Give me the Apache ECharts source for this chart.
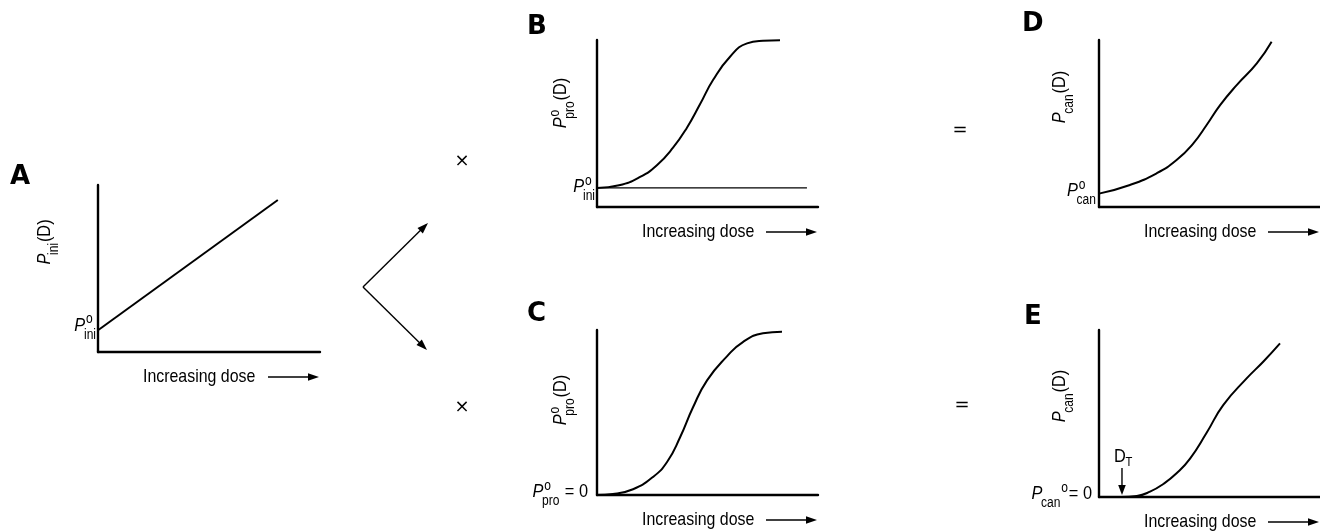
<!DOCTYPE html>
<html lang="en">
<head>
  <meta charset="utf-8">
  <style>
    body { margin: 0; background: #fff; }
  </style>
</head>
<body>
  <div id="container" style="width: 1320px; height: 531px"></div>
  <script src="https://cdn.jsdelivr.net/npm/echarts@6/dist/echarts.min.js"></script>
  <script>
// ---- data (dose / probability, arbitrary units 0..10) ----
const doseA = [0, 8.1];
const pIniA = [1.3, 9.1];

const doseB = [0, 1.0, 1.95, 2.71, 3.44, 4.07, 4.66, 5.25, 6.02, 6.79, 7.51, 8.28];
const pProB = [1.14, 1.3, 1.8, 2.5, 3.55, 4.75, 6.15, 7.6, 9.0, 9.8, 9.95, 9.98];
const baseDoseB = [0, 9.5];
const baseLevelB = [1.14, 1.14];

const doseC = [0, 0.72, 1.63, 2.53, 3.17, 3.76, 4.34, 4.98, 5.88, 6.6, 7.51, 8.37];
const pProC = [0, 0.06, 0.35, 1.09, 2.0, 3.5, 5.3, 6.95, 8.4, 9.27, 9.8, 9.9];

const doseD = [0, 1.4, 2.61, 3.51, 4.27, 4.87, 5.48, 6.23, 7.14, 7.81];
const pCanD = [0.8, 1.32, 2.02, 2.81, 3.81, 4.91, 6.1, 7.3, 8.6, 9.9];

const doseE = [0, 1.0, 1.71, 2.31, 2.91, 3.51, 4.12, 4.87, 5.62, 6.68, 7.43, 8.19];
const pCanE = [0, 0, 0.06, 0.32, 0.78, 1.42, 2.3, 3.85, 5.5, 7.1, 8.1, 9.2];

const thresholdDose = 1.04;
const panelNames = ['A', 'B', 'C', 'D', 'E'];

const pairs = (xs, ys) => xs.map((x, i) => [x, ys[i]]);

const dom = document.getElementById('container');
const myChart = echarts.init(dom, null, { renderer: 'canvas' });

const grids = [
  { left: 98, top: 185, width: 222, height: 167 },
  { left: 597, top: 40, width: 221, height: 167 },
  { left: 597, top: 330, width: 221, height: 165 },
  { left: 1099, top: 40, width: 221, height: 167 },
  { left: 1099, top: 330, width: 221, height: 167 }
];

const axisLine = { show: true, onZero: false, lineStyle: { color: '#000', width: 2.4 } };
function axis(i) {
  return {
    type: 'value', gridIndex: i, min: 0, max: 10,
    axisLine: axisLine, axisTick: { show: false }, axisLabel: { show: false },
    splitLine: { show: false }
  };
}
function curve(i, data, smooth, width) {
  return {
    type: 'line', xAxisIndex: i, yAxisIndex: i, data: data,
    smooth: smooth, showSymbol: false, silent: true,
    lineStyle: { color: '#000', width: width || 2 }
  };
}

const option = {
  backgroundColor: '#fff',
  animation: false,
  grid: grids,
  xAxis: grids.map((g, i) => axis(i)),
  yAxis: grids.map((g, i) => axis(i)),
  series: [
    curve(0, pairs(doseA, pIniA), false),
    curve(1, pairs(doseB, pProB), 0.5),
    curve(1, pairs(baseDoseB, baseLevelB), false, 1.3),
    curve(2, pairs(doseC, pProC), 0.5),
    curve(3, pairs(doseD, pCanD), 0.5),
    curve(4, pairs(doseE, pCanE), 0.5)
  ]
};
myChart.setOption(option);

// ---- text helpers ----
const SANS = '"Liberation Sans", Arial, sans-serif';
const SX = 0.86; // condense to mimic the narrow typeface
const ctx = document.createElement('canvas').getContext('2d');
function font(size, italic) { return (italic ? 'italic ' : '') + size + 'px ' + SANS; }
function tw(s, size, italic) { ctx.font = font(size, italic); return ctx.measureText(s).width; }
function txt(s, x, y, size, italic, align, fam, sx) {
  return {
    type: 'text', x: x, y: y, silent: true, scaleX: sx || 1,
    style: { text: s, font: fam || font(size, italic), fill: '#000',
      textAlign: align || 'left', textVerticalAlign: 'middle',
      align: align || 'left', verticalAlign: 'middle' }
  };
}
// P with sub/superscript and trailing text, origin at P's middle-left
function pSym(sub, sup, tail, supAfter) {
  const S = 19, s = 14;
  const wP = tw('P', S, true);
  const kids = [txt('P', 0, 0, S, true)];
  const x = wP - 1.5;
  kids.push(txt(sub, x, S * 0.5, s));
  let end = x + tw(sub, s);
  if (sup) {
    if (supAfter) {
      kids.push(txt(sup, end + 1, -S * 0.3, s));
      end += 1 + tw(sup, s);
    } else {
      kids.push(txt(sup, wP + 1, -S * 0.3, s));
      end = Math.max(end, wP + 1 + tw(sup, s));
    }
  }
  if (tail) {
    kids.push(txt(tail, end + 1, 0, S));
    end += 1 + tw(tail, S);
  }
  return { kids: kids, width: end };
}
function arrow(x1, y1, x2, y2, head, lw) {
  const a = Math.atan2(y2 - y1, x2 - x1), h = head || 10, w = 3.8;
  const bx = x2 - h * Math.cos(a), by = y2 - h * Math.sin(a);
  return [
    { type: 'line', silent: true, shape: { x1: x1, y1: y1, x2: x2 - 3 * Math.cos(a), y2: y2 - 3 * Math.sin(a) },
      style: { stroke: '#000', lineWidth: lw || 1.4 } },
    { type: 'polygon', silent: true,
      shape: { points: [[x2, y2], [bx - w * Math.sin(a), by + w * Math.cos(a)], [bx + w * Math.sin(a), by - w * Math.cos(a)]] },
      style: { fill: '#000' } }
  ];
}
const px = (i, x, y) => myChart.convertToPixel({ gridIndex: i }, [x, y]);

const g = [];
// x-axis captions
grids.forEach((gr, i) => {
  const o = px(i, 0, 0), e = px(i, 10, 0);
  const y = o[1] + 25;
  g.push(txt('Increasing dose', o[0] + 45, y, 18.5, false, 'left', null, SX));
  g.push(...arrow(e[0] - 52, y, e[0] - 1, y, 11, 1.4));
});
// y-axis names (rotated)
const yNames = [
  { sub: 'ini', sup: null, x: 45, y: 242 },
  { sub: 'pro', sup: 'o', x: 561, y: 103 },
  { sub: 'pro', sup: 'o', x: 561, y: 400 },
  { sub: 'can', sup: null, x: 1060, y: 97 },
  { sub: 'can', sup: null, x: 1060, y: 396 }
];
yNames.forEach(n => {
  const p = pSym(n.sub, n.sup, '(D)');
  p.kids.forEach(k => { k.x -= p.width / 2; });
  g.push({ type: 'group', x: n.x, y: n.y, rotation: Math.PI / 2, scaleX: SX, children: p.kids });
});
// intercept labels on the y axes
const ticks = [
  { i: 0, v: pIniA[0], sub: 'ini', sup: 'o', tail: null, dy: -5, gap: 2 },
  { i: 1, v: baseLevelB[0], sub: 'ini', sup: 'o', tail: null, dy: -1, gap: 2 },
  { i: 2, v: pProC[0], sub: 'pro', sup: 'o', tail: ' = 0', dy: -3, gap: 9 },
  { i: 3, v: pCanD[0], sub: 'can', sup: 'o', tail: null, dy: -3, gap: 3 },
  { i: 4, v: pCanE[0], sub: 'can', sup: 'o', tail: '= 0', dy: -3, gap: 7, after: true }
];
ticks.forEach(t => {
  const p = pSym(t.sub, t.sup, t.tail, t.after);
  const q = px(t.i, 0, t.v);
  g.push({ type: 'group', x: q[0] - t.gap - p.width * SX, y: q[1] + t.dy, scaleX: SX, children: p.kids });
});
// threshold dose marker in E
const dt = px(4, thresholdDose, 0);
g.push(txt('D', dt[0] - 8, dt[1] - 40, 19, false, 'left', null, SX));
g.push(txt('T', dt[0] + 3.5, dt[1] - 35, 13, false, 'left', null, SX));
g.push(...arrow(dt[0], dt[1] - 29, dt[0], dt[1] - 2, 10, 1.4));

// panel letters
const letterPos = [[10, 177], [527, 27], [527, 314], [1022, 24], [1024, 317]];
panelNames.forEach((l, i) => {
  g.push(txt(l, letterPos[i][0], letterPos[i][1], 0, false, 'left', 'bold 26px "DejaVu Sans", sans-serif'));
});
// operators
const OPF = '18px "DejaVu Sans", sans-serif';
g.push(txt('\u00d7', 462, 161, 0, false, 'center', OPF));
g.push(txt('\u00d7', 462, 407, 0, false, 'center', OPF));
g.push(txt('=', 960, 130, 0, false, 'center', OPF));
g.push(txt('=', 962, 405, 0, false, 'center', OPF));
// branching arrows A -> B, C
g.push(...arrow(363, 287, 428, 223, 11, 1.4));
g.push(...arrow(363, 287, 427, 350, 11, 1.4));

myChart.setOption({ graphic: g });
window.addEventListener('resize', myChart.resize);
  </script>
</body>
</html>
